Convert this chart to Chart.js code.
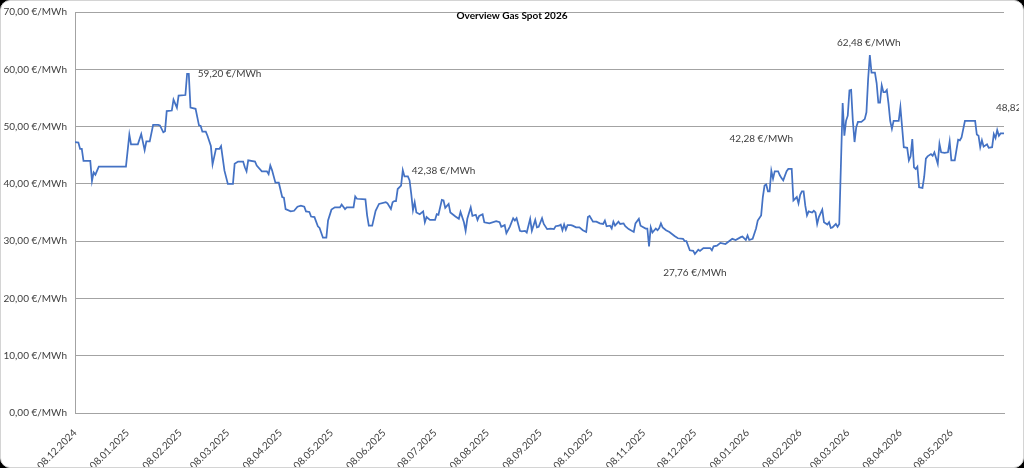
<!DOCTYPE html>
<html>
<head>
<meta charset="utf-8">
<script src="https://cdn.jsdelivr.net/npm/chart.js@4/dist/chart.umd.min.js"></script>
<style>
  html, body { margin: 0; padding: 0; background: #000; }
  .card {
    position: absolute; left: 0; top: 0;
    width: 1022px; height: 466px;
    background: #fff; border: 1px solid #d4d4d4; border-radius: 10px;
    overflow: hidden;
  }
  canvas { position: absolute; left: -1px; top: -3px; }
</style>
</head>
<body>
<div class="card"><canvas id="chart" width="1024" height="470"></canvas></div>
<script>
// days counted from 08.12.2024, price in €/MWh
const startDate = Date.UTC(2024, 11, 8);

const days = [
  0, 2, 3, 4, 5, 9, 10, 11, 12, 14, 30, 32, 33, 37, 39, 41, 42, 44, 46, 49,
  50, 52, 53, 54, 57, 58, 60, 61, 65, 66, 67, 68, 71, 73, 74, 75, 77, 78, 80, 81,
  83, 85, 86, 88, 90, 93, 94, 96, 99, 100, 101, 102, 106, 107, 110, 113, 114, 115, 116, 118,
  120, 122, 123, 124, 127, 129, 131, 133, 135, 136, 138, 139, 141, 143, 144, 146, 148, 149, 151, 153,
  156, 157, 159, 160, 164, 165, 166, 171, 172, 173, 175, 177, 179, 183, 184, 186, 187, 188, 189, 190,
  192, 193, 194, 196, 197, 198, 199, 200, 201, 203, 205, 206, 207, 209, 212, 213, 214, 216, 217, 218,
  220, 221, 224, 226, 227, 229, 230, 231, 233, 234, 236, 237, 238, 240, 241, 244, 248, 250, 251, 253,
  254, 256, 258, 259, 260, 262, 263, 265, 266, 268, 269, 271, 272, 273, 275, 276, 278, 280, 282, 283,
  285, 286, 287, 288, 289, 290, 292, 293, 295, 297, 299, 301, 302, 303, 305, 307, 309, 311, 312, 313,
  315, 316, 317, 318, 320, 321, 323, 324, 326, 329, 330, 332, 333, 336, 337, 338, 339, 340, 342, 343,
  344, 345, 346, 348, 350, 353, 355, 358, 359, 360, 362, 364, 365, 367, 368, 370, 374, 375, 376, 378,
  380, 383, 387, 389, 392, 393, 395, 396, 397, 399, 401, 402, 404, 405, 406, 407, 408, 409, 410, 411,
  412, 414, 415, 416, 417, 419, 420, 422, 423, 425, 426, 427, 428, 429, 430, 431, 432, 434, 435, 436,
  437, 438, 440, 441, 443, 444, 445, 446, 448, 449, 450, 452, 453, 454, 455, 456, 457, 458, 459, 460,
  461, 463, 465, 466, 467, 468, 469, 471, 472, 473, 474, 475, 476, 477, 478, 479, 480, 481, 482, 485,
  486, 487, 488, 490, 491, 492, 493, 494, 495, 496, 497, 499, 500, 501, 502, 504, 505, 506, 508, 509,
  510, 512, 514, 515, 516, 518, 520, 521, 522, 524, 530, 531, 532, 533, 534, 535, 537, 538, 540, 541,
  542, 543, 544, 545, 547
];

const prices = [
  47.3, 47.2, 46.1, 46.1, 44.0, 44.0, 40.5, 42.0, 41.6, 43.0, 43.0, 48.6, 46.9, 46.9, 48.7, 45.9, 47.4, 47.4, 50.3, 50.3,
  50.2, 49.0, 49.2, 52.7, 52.8, 54.7, 53.3, 55.4, 55.5, 59.2, 59.2, 53.3, 53.1, 50.2, 50.1, 49.1, 49.1, 48.4, 46.6, 43.4,
  46.1, 46.1, 46.6, 42.3, 40.0, 40.0, 43.5, 43.9, 43.9, 42.9, 42.2, 44.1, 43.9, 43.2, 42.2, 42.2, 41.7, 43.2, 42.4, 40.2,
  40.2, 37.7, 37.6, 35.6, 35.2, 35.3, 36.0, 36.2, 36.0, 35.2, 35.1, 34.3, 34.2, 32.6, 32.3, 30.6, 30.6, 33.6, 35.5, 35.9,
  35.9, 36.4, 35.6, 35.9, 35.9, 37.8, 37.4, 37.3, 34.5, 32.7, 32.7, 35.3, 36.5, 36.8, 36.6, 35.6, 36.8, 37.0, 37.0, 39.1,
  39.7, 42.38, 41.3, 41.3, 40.6, 38.2, 35.4, 36.8, 35.0, 34.7, 35.2, 33.3, 34.2, 33.7, 33.7, 34.7, 34.6, 37.2, 37.1, 35.8,
  36.5, 35.0, 34.3, 33.9, 35.1, 33.3, 31.8, 33.9, 35.9, 34.4, 34.6, 33.7, 34.4, 34.7, 33.3, 33.1, 33.5, 33.3, 32.5, 32.8,
  31.4, 32.5, 34.0, 33.6, 34.0, 31.8, 31.7, 31.8, 31.5, 33.9, 31.8, 33.7, 32.4, 32.5, 34.0, 33.0, 32.1, 32.2, 32.1, 32.6,
  32.7, 32.9, 31.9, 32.9, 32.0, 32.8, 32.8, 32.7, 32.4, 32.4, 31.9, 31.6, 34.2, 34.4, 33.4, 33.4, 33.1, 33.0, 33.6, 32.6,
  32.7, 32.2, 33.4, 32.7, 33.4, 33.0, 33.1, 32.6, 32.1, 31.6, 33.1, 33.9, 32.7, 32.2, 32.2, 29.1, 32.4, 31.5, 32.2, 31.9,
  32.3, 33.1, 32.4, 31.9, 31.6, 30.9, 30.5, 30.4, 30.0, 30.0, 28.4, 28.3, 27.76, 28.5, 28.3, 28.8, 28.8, 28.4, 29.1, 29.2,
  29.7, 29.5, 30.4, 30.2, 30.7, 30.8, 30.2, 31.0, 30.2, 30.4, 32.2, 33.6, 34.5, 37.7, 39.7, 39.9, 38.7, 38.7, 42.28, 40.9,
  42.2, 42.2, 41.5, 41.0, 40.6, 42.2, 42.6, 42.6, 37.1, 37.7, 36.6, 38.1, 38.7, 38.7, 36.2, 34.5, 35.2, 35.0, 35.3, 35.0,
  33.0, 34.2, 35.5, 33.3, 32.9, 33.3, 32.3, 32.4, 33.0, 32.5, 33.0, 54.1, 48.4, 51.0, 51.9, 56.3, 56.4, 51.0, 47.3, 49.9,
  50.8, 50.8, 51.3, 52.5, 58.3, 62.48, 59.4, 59.4, 57.6, 54.2, 54.2, 57.2, 56.0, 56.0, 56.4, 54.0, 51.0, 49.6, 51.0, 51.0,
  53.4, 49.9, 46.4, 46.3, 44.1, 44.8, 47.8, 42.9, 42.6, 43.0, 39.4, 39.3, 41.2, 44.4, 44.8, 45.2, 44.9, 45.5, 43.5, 47.0,
  45.5, 45.4, 45.5, 47.4, 44.1, 44.1, 47.7, 47.6, 48.1, 51.0, 51.0, 48.6, 48.4, 46.4, 47.6, 46.5, 46.9, 46.3, 46.4, 48.7,
  48.0, 49.4, 48.4, 48.8, 48.82
];

const tickLabels = [
  "08.12.2024", "08.01.2025", "08.02.2025", "08.03.2025", "08.04.2025", "08.05.2025",
  "08.06.2025", "08.07.2025", "08.08.2025", "08.09.2025", "08.10.2025", "08.11.2025",
  "08.12.2025", "08.01.2026", "08.02.2026", "08.03.2026", "08.04.2026", "08.05.2026"
];

// points that carry a value label
const labelDays = [67, 193, 365, 410, 468, 547];

function dayOf(label) {
  const [d, m, y] = label.split(".").map(Number);
  return Math.round((Date.UTC(y, m - 1, d) - startDate) / 86400000);
}
const tickDays = tickLabels.map(dayOf);

function euro(v) {
  return v.toFixed(2).replace(".", ",") + " €/MWh";
}

const FONT = "Lato, 'Open Sans', sans-serif";
const TEXT = "#404040";
const GRID = "#a3a3a3";

const labelStyle = {
  67:  { dx: 9,   dy: 0,   align: "left" },
  193: { dx: 9,   dy: 1,   align: "left" },
  365: { dx: 0,   dy: 19,  align: "center" },
  410: { dx: -10, dy: -32, align: "center" },
  468: { dx: -1,  dy: -12, align: "center" },
  547: { dx: -8,  dy: -26, align: "left" }
};

const extras = {
  id: "extras",
  afterDatasetsDraw(chart) {
    const ctx = chart.ctx;
    const meta = chart.getDatasetMeta(0);
    ctx.save();
    ctx.beginPath();
    ctx.rect(0, 0, chart.width - 5, chart.height);
    ctx.clip();
    ctx.font = "10px " + FONT;
    ctx.fillStyle = TEXT;
    ctx.textBaseline = "middle";
    labelDays.forEach(day => {
      const i = days.indexOf(day);
      const pt = meta.data[i];
      const st = labelStyle[day];
      ctx.textAlign = st.align;
      ctx.fillText(euro(prices[i]), pt.x + st.dx, pt.y + st.dy);
    });
    ctx.restore();

    ctx.save();
    ctx.font = "bold 10px " + FONT;
    ctx.fillStyle = "#000";
    ctx.textAlign = "center";
    ctx.textBaseline = "middle";
    ctx.fillText("Overview Gas Spot 2026", chart.width / 2, 17.5);
    ctx.restore();
  }
};

new Chart(document.getElementById("chart"), {
  type: "line",
  data: {
    datasets: [{
      label: "Gas Spot",
      data: days.map((d, i) => ({ x: d, y: prices[i] })),
      borderColor: "#4472c4",
      borderWidth: 1.75,
      pointRadius: 0,
      tension: 0
    }]
  },
  options: {
    responsive: false,
    animation: false,
    layout: { padding: { top: 7, right: 20, bottom: 0, left: 0 } },
    plugins: {
      legend: { display: false },
      tooltip: { enabled: false }
    },
    scales: {
      x: {
        type: "linear",
        min: 0,
        max: 547,
        afterBuildTicks: scale => { scale.ticks = tickDays.map(v => ({ value: v })); },
        afterFit: scale => { scale.height = 55; },
        grid: { display: false },
        border: { display: true, color: GRID, width: 1 },
        ticks: {
          autoSkip: false,
          minRotation: 45,
          maxRotation: 45,
          padding: 6,
          color: TEXT,
          font: { family: FONT, size: 10 },
          callback: v => tickLabels[tickDays.indexOf(v)]
        }
      },
      y: {
        min: 0,
        max: 70,
        afterFit: scale => { scale.width = 75; },
        grid: { color: GRID, lineWidth: 1, drawTicks: false },
        border: { display: true, color: GRID, width: 1 },
        ticks: {
          stepSize: 10,
          padding: 8,
          color: TEXT,
          font: { family: FONT, size: 10 },
          callback: v => euro(v)
        }
      }
    }
  },
  plugins: [extras]
});
</script>
</body>
</html>
